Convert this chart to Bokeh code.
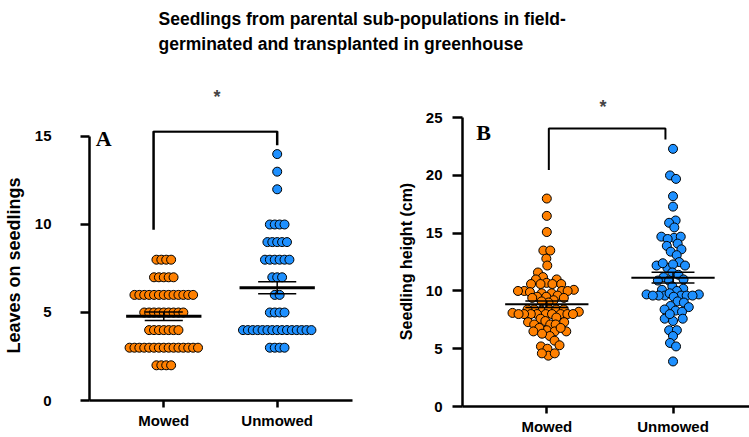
import numpy as np
from bokeh.plotting import figure
from bokeh.models import Range1d, FixedTicker, Label
from bokeh.layouts import column, row
from bokeh.embed import file_html
from bokeh.resources import INLINE

# ---------------- data ----------------
title_lines = ["Seedlings from parental sub-populations in field-",
               "germinated and transplanted in greenhouse"]
categories = ["Mowed", "Unmowed"]
significance = "*"

# Panel A: leaves on seedlings (discrete levels with counts)
mowed_a_levels = [2, 3, 4, 5, 6, 7, 8]
mowed_a_counts = [4, 15, 7, 9, 13, 5, 4]
unmowed_a_levels = [3, 4, 5, 6, 7, 8, 9, 10, 12, 13, 14]
unmowed_a_counts = [4, 15, 4, 2, 3, 6, 5, 4, 1, 1, 1]
mean_a = [4.79, 6.40]
sem_a = [0.24, 0.34]
yticks_a = [0, 5, 10, 15]

# Panel B: seedling height (cm)
mowed_b = [18.0, 16.5, 15.1, 13.5, 13.5, 12.8, 12.2, 11.6, 11.2, 11.0, 11.0,
           10.7, 10.6, 10.6, 10.6, 10.6, 10.1, 10.0, 10.0, 10.0, 10.0, 9.9,
           9.8, 9.8, 9.5, 9.5, 9.6, 9.4, 9.4, 9.2, 9.0, 9.1, 8.3, 8.4, 8.4,
           8.4, 8.4, 8.4, 8.2, 8.0, 8.0, 8.0, 8.0, 8.0, 8.1, 8.0, 8.0, 8.0,
           8.0, 7.6, 7.7, 7.3, 7.4, 7.1, 7.1, 7.3, 7.1, 6.6, 6.5, 6.8, 6.5,
           6.5, 6.8, 6.1, 6.3, 5.7, 5.2, 5.3, 5.0, 4.4, 4.6, 4.6]
unmowed_b = [22.3, 20.0, 19.7, 18.2, 17.3, 16.1, 15.9, 15.5, 14.6, 14.7, 14.7,
             14.5, 14.1, 13.9, 13.6, 13.4, 13.1, 12.5, 12.2, 12.2, 12.0, 12.3,
             12.4, 11.6, 11.4, 11.2, 10.9, 11.0, 10.9, 10.4, 10.1, 10.2, 10.0,
             9.7, 9.6, 9.6, 9.6, 9.6, 9.8, 9.7, 9.6, 9.6, 9.5, 9.1, 9.0, 8.7,
             8.3, 8.6, 8.2, 8.4, 7.6, 7.4, 7.6, 8.0, 6.6, 6.6, 6.1, 5.5, 5.2, 3.9]
mean_b = [8.85, 11.15]
sem_b = [0.28, 0.46]
yticks_b = [0, 5, 10, 15, 20, 25]

# significance brackets: (x_left, x_right, top, left_bottom, right_bottom)
bracket_a = (-0.09, 1.0, 15.28, 9.7, 14.5)
bracket_b = (0.016, 0.94, 24.06, 20.46, 23.1)

ORANGE = "#FF8000"
BLUE = "#1E90FF"
FONT = "Liberation Sans"


def style(p, yticks, ylabel, label_size, y_standoff, tick_len, label_standoff):
    p.frame_align = False
    p.xgrid.visible = False
    p.ygrid.visible = False
    p.outline_line_color = None
    p.xaxis.ticker = FixedTicker(ticks=[0, 1])
    p.xaxis.major_label_overrides = {0: categories[0], 1: categories[1]}
    p.yaxis.ticker = FixedTicker(ticks=yticks)
    p.yaxis.bounds = (yticks[0], yticks[-1])
    p.yaxis.axis_label = ylabel
    for ax in (p.xaxis, p.yaxis):
        ax.axis_line_width = 2.5
        ax.axis_line_color = "black"
        ax.major_tick_line_width = 2.5
        ax.major_tick_in = 0
        ax.minor_tick_line_color = None
        ax.major_label_text_font = FONT
        ax.major_label_text_font_style = "bold"
        ax.major_label_text_font_size = "15px"
        ax.major_label_text_color = "black"
        ax.axis_label_text_font = FONT
        ax.axis_label_text_font_style = "bold"
        ax.axis_label_text_color = "black"
    p.xaxis.major_tick_out = 7
    p.xaxis.major_label_standoff = 4
    p.yaxis.major_tick_out = tick_len
    p.yaxis.major_label_standoff = y_standoff
    p.yaxis.axis_label_text_font_size = label_size
    p.yaxis.axis_label_standoff = label_standoff
    p.title.text_font = FONT
    p.title.text_font_style = "bold"
    p.title.text_font_size = "18px"
    p.title.align = "left"


def rows_layout(levels, counts, cat, spacing):
    xs, ys = [], []
    for lv, n in zip(levels, counts):
        for i in range(n):
            xs.append(cat + (i - (n - 1) / 2) * spacing)
            ys.append(lv)
    return xs, ys


def swarm_layout(values, cat, ppu_x, ppu_y, bin_w, spacing_px, d_px,
                 iters=400, pull=0.006):
    """Prism-like column scatter: close values share a row side by side,
    then a light relaxation spreads overlapping dots horizontally."""
    vals = np.asarray(values, dtype=float)
    keys = np.floor((vals + bin_w / 2) / bin_w).astype(int)
    x = np.zeros(len(vals))
    for k in np.unique(keys):
        idx = np.where(keys == k)[0]
        idx = idx[np.argsort(vals[idx], kind="stable")]
        n = len(idx)
        slots = [(i - (n - 1) / 2) for i in range(n)]
        slots.sort(key=lambda s: (abs(s), s))
        for j, s in zip(idx, slots):
            x[j] = s * spacing_px
    y = vals * ppu_y
    n = len(vals)
    order_sign = np.sign(np.arange(n)[:, None] - np.arange(n)[None, :])
    eye = np.eye(n, dtype=bool)
    for _ in range(iters):
        dx = x[:, None] - x[None, :]
        dy = y[:, None] - y[None, :]
        need = np.sqrt(np.clip(d_px ** 2 - dy ** 2, 0, None))
        gap = need - np.abs(dx)
        sgn = np.where(np.abs(dx) < 1e-9, order_sign, np.sign(dx))
        push = np.where((gap > 0) & ~eye, 0.5 * gap * sgn, 0.0)
        x = x + 0.5 * push.sum(axis=1)
        x = x - pull * x
    return list(cat + x / ppu_x), list(vals)


def mean_sem(p, means, sems, half_mean, half_sem, w_mean, w_sem):
    cats = [0, 1]
    p.segment(x0=[c - half_mean for c in cats], x1=[c + half_mean for c in cats],
              y0=means, y1=means, line_color="black", line_width=w_mean)
    up = [m + s for m, s in zip(means, sems)]
    lo = [m - s for m, s in zip(means, sems)]
    p.segment(x0=[c - half_sem for c in cats], x1=[c + half_sem for c in cats],
              y0=up, y1=up, line_color="black", line_width=w_sem)
    p.segment(x0=[c - half_sem for c in cats], x1=[c + half_sem for c in cats],
              y0=lo, y1=lo, line_color="black", line_width=w_sem)
    p.segment(x0=cats, x1=cats, y0=lo, y1=up, line_color="black", line_width=w_sem)


def bracket(p, br, width):
    xl, xr, top, lb, rb = br
    p.line(x=[xl, xl, xr, xr], y=[lb, top, top, rb], line_color="black",
           line_width=width)


# ---------------- title ----------------
TH = 58
pt = figure(width=749, height=TH, x_range=Range1d(0, 1), y_range=Range1d(0, 1),
            x_axis_type=None, y_axis_type=None, toolbar_location=None,
            output_backend="svg", min_border=0, outline_line_color=None)
pt.grid.visible = False
for i, t in enumerate(title_lines):
    pt.add_layout(Label(x=158, y=TH - 18 - 25 * i, x_units="screen", y_units="screen",
                        text=t, text_font=FONT,
                        text_font_style="bold", text_font_size="17.5px",
                        text_baseline="middle", text_align="left",
                        text_color="black"))

# ---------------- panel A ----------------
W1, H = 390, 379
L1, R1, T1, B1 = 83, 38, 72, 37
xr1 = (-0.655, 1.664)
p1 = figure(width=W1, height=H, x_range=Range1d(*xr1), title=significance,
            y_range=Range1d(0, 15.34), toolbar_location=None, output_backend="svg",
            min_border_left=L1, min_border_right=R1, min_border_top=T1,
            min_border_bottom=B1)
style(p1, yticks_a, "Leaves on seedlings", "18px", 29, 9, 8)
p1.title.offset = 124
p1.title.standoff = 48
ppu_x1 = (W1 - L1 - R1) / (xr1[1] - xr1[0])
sp = 5.0 / ppu_x1
mx, my = rows_layout(mowed_a_levels, mowed_a_counts, 0, sp)
ux, uy = rows_layout(unmowed_a_levels, unmowed_a_counts, 1, sp)
p1.scatter(mx, my, size=9, fill_color=ORANGE, line_color="black", line_width=1)
p1.scatter(ux, uy, size=9, fill_color=BLUE, line_color="black", line_width=1)
mean_sem(p1, mean_a, sem_a, 0.332, 0.168, 3, 1.5)
bracket(p1, bracket_a, 2.5)
p1.add_layout(Label(x=-0.6, y=14.87, text="A", text_font="Liberation Serif",
                    text_font_style="bold", text_font_size="22px",
                    text_align="left", text_baseline="alphabetic",
                    text_color="black"))

# ---------------- panel B ----------------
W2 = 749 - W1
L2, R2, T2, B2 = 72, 0, 58, 31
xr2 = (-0.668, 1.606)
yr2 = (0, 25.1)
p2 = figure(width=W2, height=H, x_range=Range1d(*xr2), title=significance,
            y_range=Range1d(*yr2), toolbar_location=None, output_backend="svg",
            min_border_left=L2, min_border_right=R2, min_border_top=T2,
            min_border_bottom=B2)
style(p2, yticks_b, "Seedling height (cm)", "16px", 10, 10, 8)
p2.title.offset = 137
p2.title.standoff = 0
ppu_x2 = (W2 - L2 - R2) / (xr2[1] - xr2[0])
ppu_y2 = (H - T2 - B2) / (yr2[1] - yr2[0])
bmx, bmy = swarm_layout(mowed_b, 0, ppu_x2, ppu_y2, 0.4, 7.4, 7.0)
bux, buy = swarm_layout(unmowed_b, 1, ppu_x2, ppu_y2, 0.4, 7.4, 7.0)
p2.scatter(bmx, bmy, size=9, fill_color=ORANGE, line_color="black", line_width=1)
p2.scatter(bux, buy, size=9, fill_color=BLUE, line_color="black", line_width=1)
mean_sem(p2, mean_b, sem_b, 0.33, 0.17, 2, 1.5)
bracket(p2, bracket_b, 2)
p2.add_layout(Label(x=-0.56, y=23.75, text="B", text_font="Liberation Serif",
                    text_font_style="bold", text_font_size="22px",
                    text_align="left", text_baseline="alphabetic",
                    text_color="black"))

layout = column(pt, row(p1, p2))
open("out.html", "w").write(file_html(layout, INLINE))
